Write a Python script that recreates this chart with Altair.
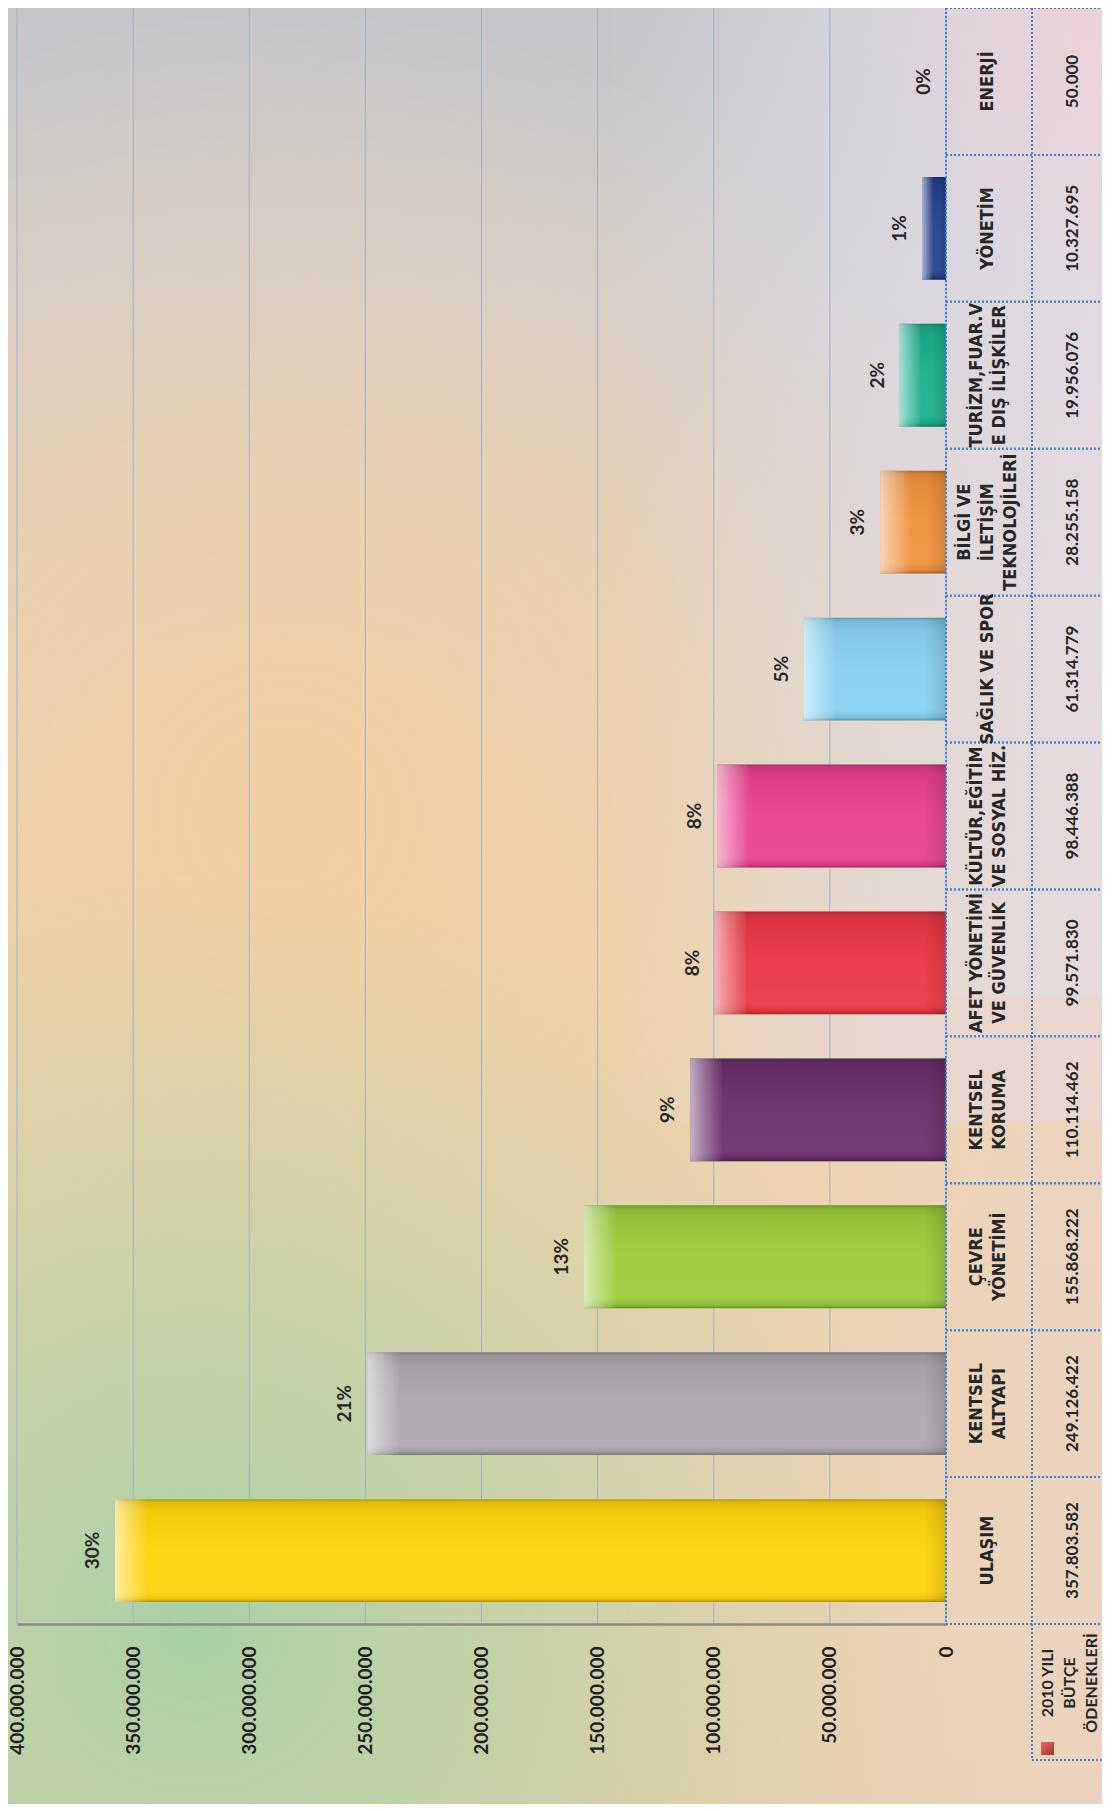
import altair as alt
import pandas as pd

# ---------------- data ----------------
categories = [
    "ULAŞIM", "KENTSEL ALTYAPI", "ÇEVRE YÖNETİMİ", "KENTSEL KORUMA",
    "AFET YÖNETİMİ VE GÜVENLİK", "KÜLTÜR,EĞİTİM VE SOSYAL HİZ.",
    "SAĞLIK VE SPOR", "BİLGİ VE İLETİŞİM TEKNOLOJİLERİ",
    "TURİZM,FUAR.VE DIŞ İLİŞKİLER", "YÖNETİM", "ENERJİ",
]
table_labels = [
    "ULAŞIM", "KENTSEL\nALTYAPI", "ÇEVRE\nYÖNETİMİ", "KENTSEL\nKORUMA",
    "AFET YÖNETİMİ\nVE GÜVENLİK", "KÜLTÜR,EĞİTİM\nVE SOSYAL HİZ.",
    "SAĞLIK VE SPOR", "BİLGİ VE\nİLETİŞİM\nTEKNOLOJİLERİ",
    "TURİZM,FUAR.V\nE DIŞ İLİŞKİLER", "YÖNETİM", "ENERJİ",
]
values = [357803582, 249126422, 155868222, 110114462, 99571830, 98446388,
          61314779, 28255158, 19956076, 10327695, 50000]
percent_labels = ["30%", "21%", "13%", "9%", "8%", "8%", "5%", "3%", "2%", "1%", "0%"]
bar_colors = ["#FFD30B", "#ADA6AE", "#9CCB3C", "#6B2F6B", "#E93844", "#E8418B",
              "#86D0F1", "#F0923B", "#1BAF8B", "#27418C", "#E0A0B0"]
axis_ticks = [0, 50000000, 100000000, 150000000, 200000000,
              250000000, 300000000, 350000000, 400000000]
series_name = "2010 YILI\nBÜTÇE\nÖDENEKLERİ"
series_color = "#C9474B"

# ---------------- layout ----------------
W, H = 929, 1616
PAD = {"left": 9, "top": 0, "right": 156, "bottom": 180}
STEP = H / len(categories)
TOTAL_W = W + PAD["right"]
TOTAL_H = H + PAD["bottom"]
OX, OY = 17, 8          # page position of the plot origin
LH = 23                 # line height of the table texts

df = pd.DataFrame({
    "category": categories,
    "label": table_labels,
    "value": values,
    "pct": percent_labels,
    "color": bar_colors,
})
ticks_df = pd.DataFrame({"t": axis_ticks})

order_top = list(reversed(categories))
NUM_FONT = "Lato"
NARROW = "Liberation Sans Narrow, DejaVu Sans Condensed, sans-serif"

xscale = alt.Scale(domain=[0, 400000000], reverse=True, nice=False, zero=True)
xaxis = alt.Axis(
    values=axis_ticks, grid=False, zindex=1,
    ticks=False, tickSize=0, domain=True, domainColor="#8A8A8A", domainWidth=2.5,
    labelAngle=270, labelAlign="right", labelBaseline="middle", labelPadding=22,
    labelFont=NUM_FONT, labelFontWeight="bold", labelFontSize=19, labelColor="#1E1E1E",
    labelExpr="replace(format(datum.value, ','), regexp(',', 'g'), '.')",
    labelBound=False, labelFlush=False, labelOverlap=False,
    title=None,
)
yenc = alt.Y("category:N",
             scale=alt.Scale(domain=order_top, paddingInner=0.3, paddingOuter=0.15),
             axis=None, title=None)

one = pd.DataFrame({"d": [0]})


def stops(pairs):
    return [alt.GradientStop(color=c, offset=o) for o, c in pairs]


def full_rect(fill, x0=None, x1=None, y0=None, y1=None):
    return alt.Chart(one).mark_rect(fill=fill, strokeWidth=0).encode(
        x=alt.value(-PAD["left"] if x0 is None else x0),
        x2=alt.value(TOTAL_W if x1 is None else x1),
        y=alt.value(0 if y0 is None else y0),
        y2=alt.value(TOTAL_H if y1 is None else y1),
    )


# ---------------- background ----------------
bg_base = full_rect(alt.LinearGradient(gradient="linear", x1=0, y1=0, x2=0, y2=1, stops=stops([
    (0.0, "#C5C5C9"), (0.16, "#D0CECF"), (0.36, "#E3D2BE"),
    (0.55, "#EED3AE"), (0.85, "#ECD2AC"), (1.0, "#E9CFA9")])))

bg_peach = full_rect(alt.RadialGradient(gradient="radial", x1=0.35, y1=0.45, r1=0,
                                        x2=0.35, y2=0.45, r2=0.45, stops=stops([
    (0.0, "rgba(244,206,158,0.85)"), (0.5, "rgba(242,208,164,0.5)"),
    (1.0, "rgba(242,210,170,0)")])))

bg_green = full_rect(alt.RadialGradient(gradient="radial", x1=0.3, y1=0.9, r1=0,
                                        x2=0.3, y2=0.9, r2=0.42, stops=stops([
    (0.0, "rgba(165,208,165,0.95)"), (0.45, "rgba(178,210,168,0.6)"),
    (1.0, "rgba(190,210,170,0)")])))

bg_right = full_rect(alt.LinearGradient(gradient="linear", x1=0, y1=0, x2=1, y2=0, stops=stops([
    (0.0, "rgba(222,220,228,0)"), (0.55, "rgba(222,220,228,0)"),
    (0.8, "rgba(222,219,228,0.65)"), (1.0, "rgba(228,220,228,0.85)")])),
    y1=TOTAL_H * 0.62)

bg_pink = full_rect(alt.RadialGradient(gradient="radial", x1=1.0, y1=0.0, r1=0,
                                       x2=1.0, y2=0.0, r2=0.5, stops=stops([
    (0.0, "rgba(240,208,214,0.9)"), (1.0, "rgba(240,208,214,0)")])),
    x0=TOTAL_W * 0.55, y1=TOTAL_H * 0.3)

bg_right_low = full_rect(alt.LinearGradient(gradient="linear", x1=0, y1=0, x2=1, y2=0, stops=stops([
    (0.0, "rgba(236,214,200,0)"), (1.0, "rgba(236,212,200,0.7)")])),
    x0=TOTAL_W * 0.6, y0=TOTAL_H * 0.55)

# ---------------- grid (behind bars) ----------------
grid = alt.Chart(ticks_df).mark_rule(color="#9DB1C6", strokeWidth=1).encode(
    x=alt.X("t:Q", scale=xscale, axis=xaxis),
    y=alt.value(0), y2=alt.value(H),
)

# ---------------- bars ----------------
base = alt.Chart(df)

bars = base.mark_bar(strokeWidth=0).encode(
    x=alt.X("value:Q", scale=xscale),
    y=yenc,
    color=alt.Color("color:N", scale=None),
)

shade = base.mark_bar(
    strokeWidth=0,
    fill=alt.LinearGradient(gradient="linear", x1=0, y1=0, x2=0, y2=1, stops=stops([
        (0.0, "rgba(0,0,0,0.28)"), (0.03, "rgba(0,0,0,0.12)"), (0.12, "rgba(0,0,0,0.05)"),
        (0.5, "rgba(255,255,255,0.04)"), (0.9, "rgba(255,255,255,0.06)"),
        (0.97, "rgba(0,0,0,0.08)"), (1.0, "rgba(0,0,0,0.3)")])),
).encode(x=alt.X("value:Q", scale=xscale), y=yenc)

bevel_left = base.transform_filter("datum.value > 1000000").transform_calculate(
    xl="datum.value - min(datum.value * 0.45, 13500000)"
).mark_bar(
    strokeWidth=0,
    fill=alt.LinearGradient(gradient="linear", x1=0, y1=0, x2=1, y2=0, stops=stops([
        (0.0, "rgba(255,255,255,0.6)"), (0.35, "rgba(255,255,255,0.38)"),
        (1.0, "rgba(255,255,255,0.03)")])),
).encode(x=alt.X("value:Q", scale=xscale), x2="xl:Q", y=yenc)

bevel_right = base.transform_filter("datum.value > 1000000").transform_calculate(
    xr="min(datum.value * 0.3, 9000000)", x0="0"
).mark_bar(
    strokeWidth=0,
    fill=alt.LinearGradient(gradient="linear", x1=0, y1=0, x2=1, y2=0, stops=stops([
        (0.0, "rgba(0,0,0,0)"), (1.0, "rgba(0,0,0,0.12)")])),
).encode(x=alt.X("xr:Q", scale=xscale), x2="x0:Q", y=yenc)

pct_text = base.transform_calculate(lx="datum.value + 9500000").mark_text(
    angle=270, align="center", baseline="middle",
    font=NUM_FONT, fontWeight="bold", fontSize=19, color="#262626",
).encode(x=alt.X("lx:Q", scale=xscale), y=yenc, text="pct:N")

# ---------------- data table on the right ----------------
CAT_CENTER = 988 - OX


def cat_layer(n):
    # Vega puts the first line on the anchor; shift so the block is centred
    return base.transform_calculate(
        nl="length(split(datum.label, '\\n'))"
    ).transform_filter(f"datum.nl == {n}").mark_text(
        angle=270, align="center", baseline="middle", lineBreak="\n", lineHeight=LH,
        font=NARROW, fontWeight="bold", fontSize=18, color="#262626",
    ).encode(x=alt.value(CAT_CENTER - (n - 1) * LH / 2), y=yenc, text="label:N")


cat_texts = [cat_layer(n) for n in (1, 2, 3)]

val_text = base.transform_calculate(
    vf="replace(format(datum.value, ','), regexp(',', 'g'), '.')"
).mark_text(
    angle=270, align="center", baseline="middle",
    font=NUM_FONT, fontWeight="bold", fontSize=17, color="#262626",
).encode(x=alt.value(1073 - OX), y=yenc, text="vf:N")

DOT = "#4A7FCC"
row_top = base.mark_rule(color=DOT, strokeWidth=2, strokeDash=[2, 2],
                         yOffset=-STEP / 2).encode(
    x=alt.value(W), x2=alt.value(TOTAL_W), y=yenc)
row_bot = base.mark_rule(color=DOT, strokeWidth=2, strokeDash=[2, 2],
                         yOffset=STEP / 2).encode(
    x=alt.value(W), x2=alt.value(TOTAL_W), y=yenc)

LEG_BOTTOM = 1760 - OY
COL2 = 1032 - OX
vline_plot = alt.Chart(one).mark_rule(color=DOT, strokeWidth=2, strokeDash=[2, 2]).encode(
    x=alt.value(W), y=alt.value(0), y2=alt.value(H))
vline_col = alt.Chart(one).mark_rule(color=DOT, strokeWidth=2, strokeDash=[2, 2]).encode(
    x=alt.value(COL2), y=alt.value(0), y2=alt.value(LEG_BOTTOM))
hline_leg = alt.Chart(one).mark_rule(color=DOT, strokeWidth=2, strokeDash=[2, 2]).encode(
    x=alt.value(COL2), x2=alt.value(TOTAL_W), y=alt.value(LEG_BOTTOM))

legend_sym = alt.Chart(one).mark_rect(
    fill=alt.LinearGradient(gradient="linear", x1=0, y1=0, x2=1, y2=1, stops=stops([
        (0.0, "#E07070"), (0.5, series_color), (1.0, "#A83438")])),
    strokeWidth=0,
).encode(x=alt.value(1041 - OX), x2=alt.value(1054 - OX),
         y=alt.value(1742 - OY), y2=alt.value(1755 - OY))

LEG_LH = 22
legend_txt = alt.Chart(pd.DataFrame({"t": [series_name]})).mark_text(
    angle=270, align="center", baseline="middle", lineBreak="\n", lineHeight=LEG_LH,
    font=NUM_FONT, fontWeight="bold", fontSize=16, color="#262626",
).encode(x=alt.value(1070 - OX - LEG_LH), y=alt.value(1683 - OY), text="t:N")

chart = alt.layer(
    bg_base, bg_peach, bg_green, bg_right, bg_pink, bg_right_low,
    grid, bars, shade, bevel_left, bevel_right, pct_text,
    row_top, row_bot, vline_plot, vline_col, hline_leg,
    *cat_texts, val_text, legend_sym, legend_txt,
).properties(
    width=W, height=H,
    autosize=alt.AutoSizeParams(type="none"),
    padding=PAD,
).configure_view(stroke=None)

chart.save("out.html", embed_options={"renderer": "svg", "actions": False})
